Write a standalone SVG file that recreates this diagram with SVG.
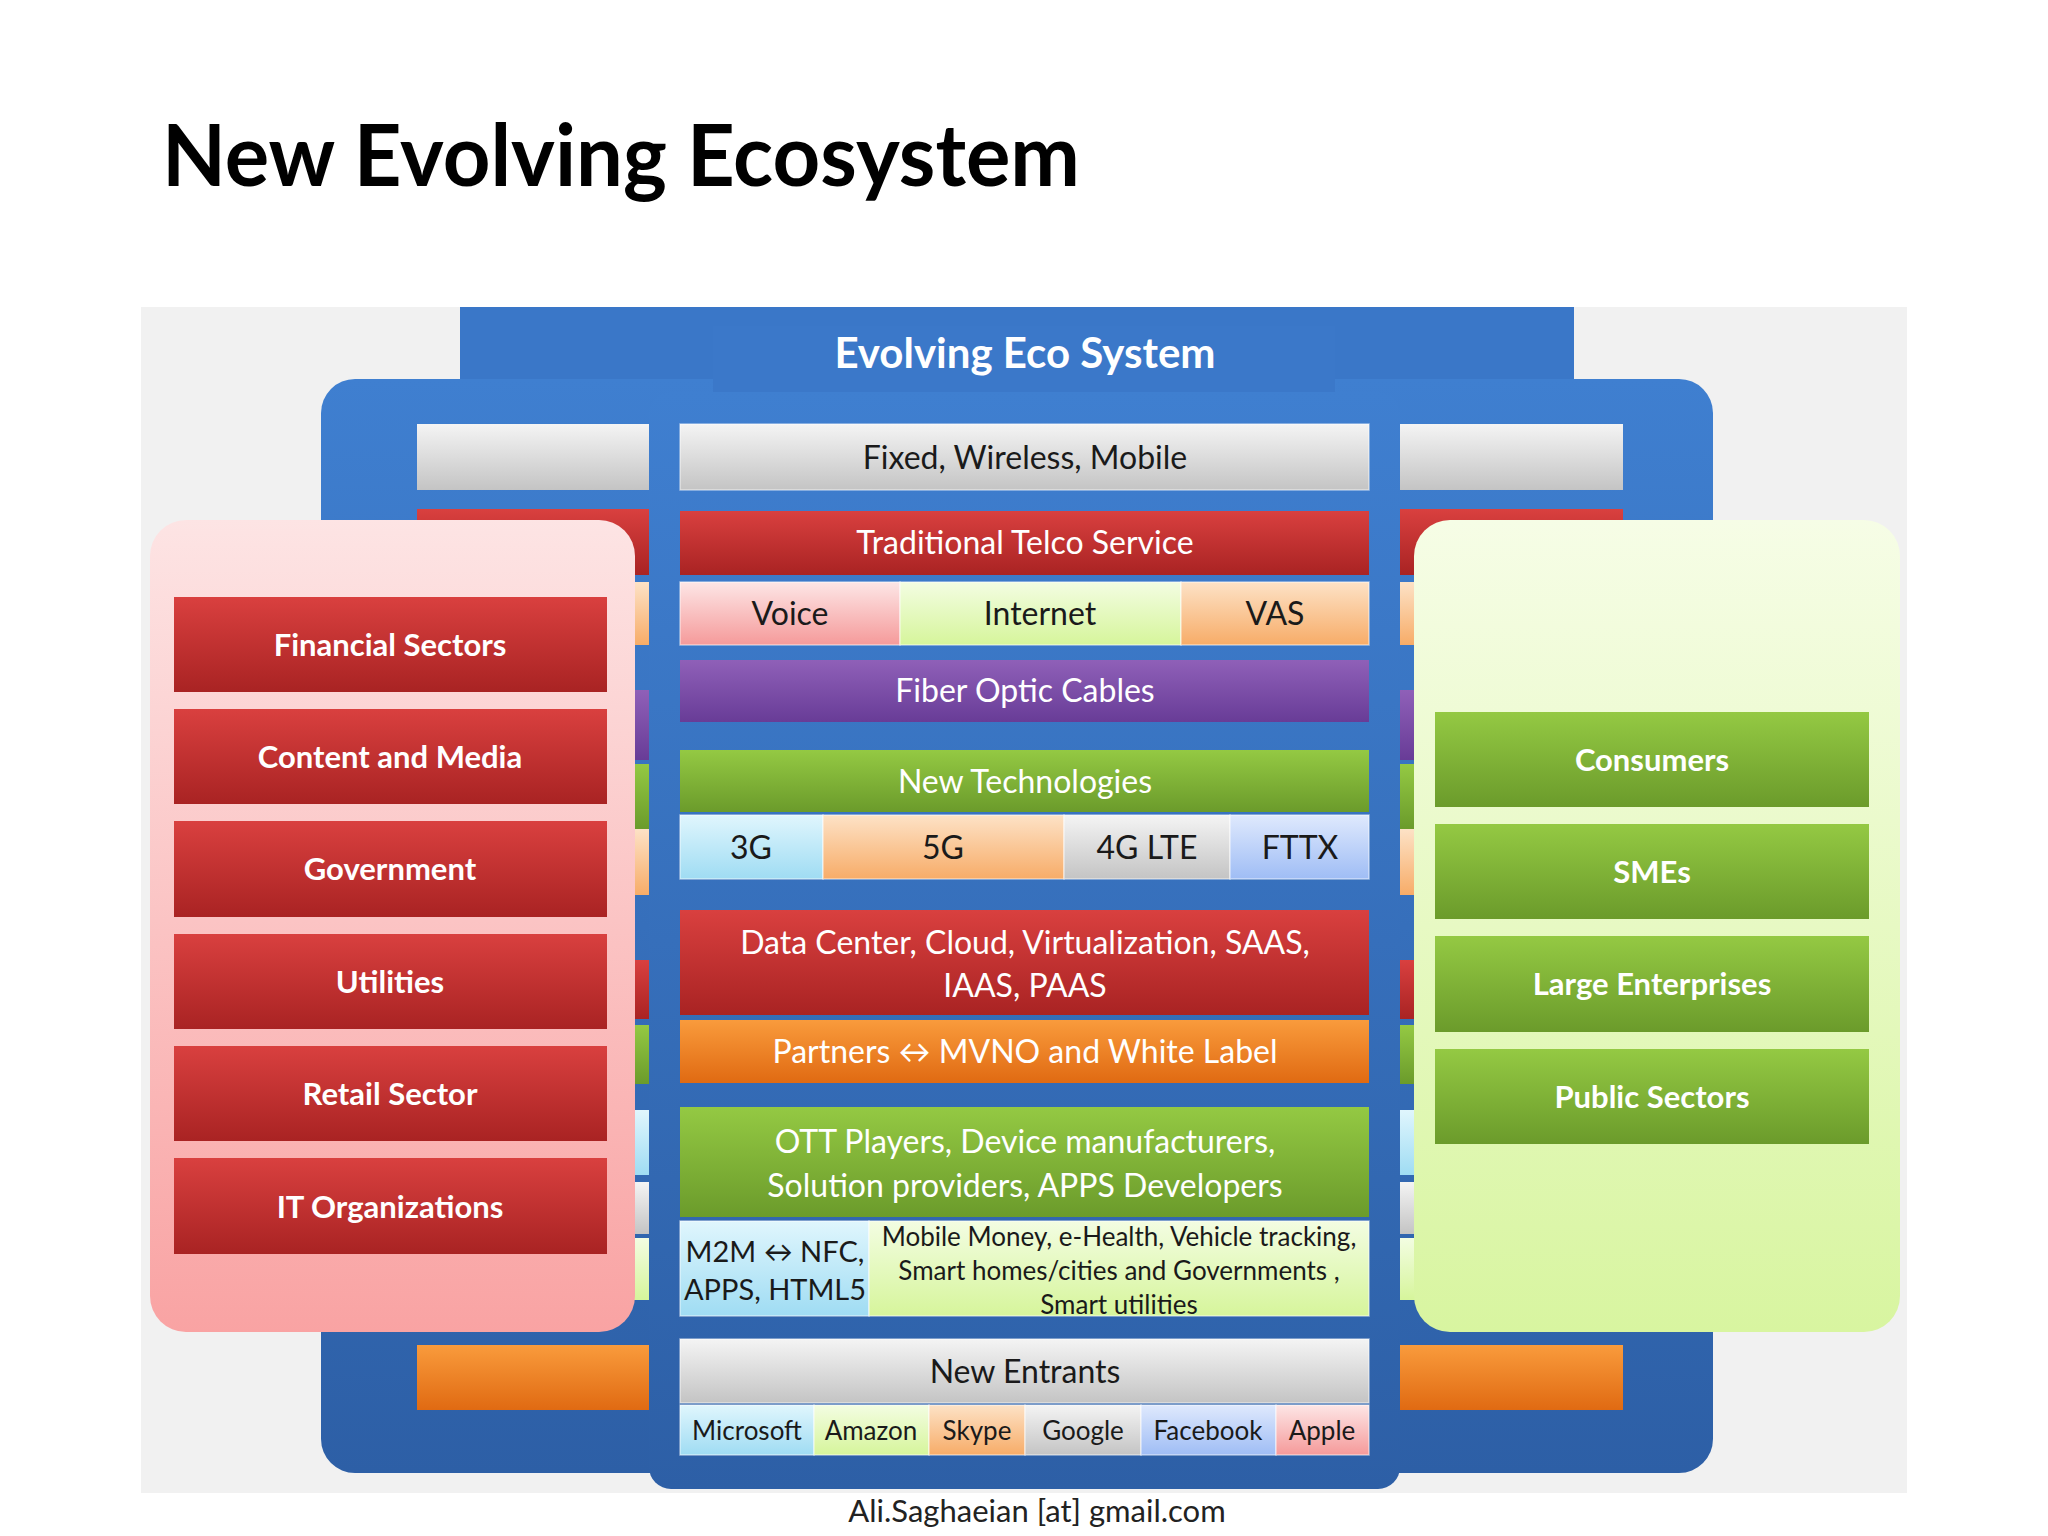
<svg xmlns="http://www.w3.org/2000/svg" width="2048" height="1536" viewBox="0 0 2048 1536">
<defs>
<linearGradient id="gRed" x1="0" y1="0" x2="0" y2="1"><stop offset="0" stop-color="#d9403f"/><stop offset="1" stop-color="#a92323"/></linearGradient>
<linearGradient id="gGreen" x1="0" y1="0" x2="0" y2="1"><stop offset="0" stop-color="#94c943"/><stop offset="1" stop-color="#6b9b2b"/></linearGradient>
<linearGradient id="gPurple" x1="0" y1="0" x2="0" y2="1"><stop offset="0" stop-color="#8f60b8"/><stop offset="1" stop-color="#683c97"/></linearGradient>
<linearGradient id="gOrange" x1="0" y1="0" x2="0" y2="1"><stop offset="0" stop-color="#f99b3c"/><stop offset="1" stop-color="#e06a12"/></linearGradient>
<linearGradient id="gGray" x1="0" y1="0" x2="0" y2="1"><stop offset="0" stop-color="#f4f4f4"/><stop offset="1" stop-color="#c4c4c4"/></linearGradient>
<linearGradient id="gPink" x1="0" y1="0" x2="0" y2="1"><stop offset="0" stop-color="#fde6e6"/><stop offset="1" stop-color="#f59a9a"/></linearGradient>
<linearGradient id="gLime" x1="0" y1="0" x2="0" y2="1"><stop offset="0" stop-color="#f3fde2"/><stop offset="1" stop-color="#d6f59b"/></linearGradient>
<linearGradient id="gPanelP" x1="0" y1="0" x2="0" y2="1"><stop offset="0" stop-color="#fde4e4"/><stop offset="1" stop-color="#f9a3a3"/></linearGradient>
<linearGradient id="gPanelG" x1="0" y1="0" x2="0" y2="1"><stop offset="0" stop-color="#f6fde6"/><stop offset="1" stop-color="#d8f5a0"/></linearGradient>
<linearGradient id="gSky" x1="0" y1="0" x2="0" y2="1"><stop offset="0" stop-color="#e0f6fd"/><stop offset="1" stop-color="#9fdcf3"/></linearGradient>
<linearGradient id="gPeach" x1="0" y1="0" x2="0" y2="1"><stop offset="0" stop-color="#fde2c6"/><stop offset="1" stop-color="#f7ac68"/></linearGradient>
<linearGradient id="gLav" x1="0" y1="0" x2="0" y2="1"><stop offset="0" stop-color="#dfe9fd"/><stop offset="1" stop-color="#9fbdf5"/></linearGradient>
<linearGradient id="gBlue" x1="0" y1="0" x2="0" y2="1"><stop offset="0" stop-color="#3f7fd0"/><stop offset="1" stop-color="#2d5fa6"/></linearGradient>
</defs>
<style>
text{font-family:Lato,"Open Sans","Liberation Sans",sans-serif;text-anchor:middle}
.c{font-size:32px;fill:#1a1a1a}
.w{font-size:32px;fill:#fff}
.b{font-size:31px;font-weight:bold;fill:#fff}
.s{font-size:26px;fill:#1a1a1a}
.e{stroke:#fff;stroke-opacity:0.5;stroke-width:1.5}
</style>
<rect width="2048" height="1536" fill="#fff"/>
<text x="162" y="186" style="font-size:86px;font-weight:bold;text-anchor:start;fill:#000" textLength="918" lengthAdjust="spacingAndGlyphs">New Evolving Ecosystem</text>
<rect x="141" y="307" width="1766" height="1186" fill="#f1f1f1"/>
<g id="background">
<rect x="460" y="307" width="1114" height="120" fill="#3a77c8"/>
<rect x="321" y="379" width="1392" height="1094" rx="34" fill="url(#gBlue)"/>
<rect x="417" y="424" width="1206" height="66" fill="url(#gGray)"/>
<rect x="417" y="509" width="1206" height="66" fill="url(#gRed)"/>
<rect x="417" y="582" width="1206" height="63" fill="url(#gPeach)"/>
<rect x="417" y="690" width="1206" height="70" fill="url(#gPurple)"/>
<rect x="417" y="764" width="1206" height="65" fill="url(#gGreen)"/>
<rect x="417" y="829" width="1206" height="66" fill="url(#gPeach)"/>
<rect x="417" y="960" width="1206" height="59" fill="url(#gRed)"/>
<rect x="417" y="1025" width="1206" height="59" fill="url(#gGreen)"/>
<rect x="417" y="1110" width="1206" height="65" fill="url(#gSky)"/>
<rect x="417" y="1182" width="1206" height="52" fill="url(#gGray)"/>
<rect x="417" y="1238" width="1206" height="62" fill="url(#gLime)"/>
<rect x="417" y="1345" width="1206" height="65" fill="url(#gOrange)"/>
</g>
<g id="center">
<rect x="649" y="392" width="751" height="1097" rx="22" fill="url(#gBlue)"/>
<rect x="713" y="326" width="622" height="66" fill="#3b78c9"/>
<text x="1025" y="368" style="font-size:42px;font-weight:bold;fill:#fff">Evolving Eco System</text>
</g>
<g id="left-panel">
<rect x="150" y="520" width="485" height="812" rx="36" fill="url(#gPanelP)"/>
</g>
<g id="right-panel">
<rect x="1414" y="520" width="486" height="812" rx="36" fill="url(#gPanelG)"/>
</g>
<g id="fixed"><rect x="680" y="424" width="689" height="66" fill="url(#gGray)" class="e"/><text class="c" x="1025" y="469">Fixed, Wireless, Mobile</text></g>
<g id="telco"><rect x="680" y="511" width="689" height="64" fill="url(#gRed)"/><text class="w" x="1025" y="554">Traditional Telco Service</text></g>
<g id="voice"><rect x="680" y="582" width="220" height="63" fill="url(#gPink)" class="e"/><text class="c" x="790" y="625">Voice</text></g>
<g id="internet"><rect x="900" y="582" width="281" height="63" fill="url(#gLime)" class="e"/><text class="c" x="1040" y="625">Internet</text></g>
<g id="vas"><rect x="1181" y="582" width="188" height="63" fill="url(#gPeach)" class="e"/><text class="c" x="1275" y="625">VAS</text></g>
<g id="fiber"><rect x="680" y="660" width="689" height="62" fill="url(#gPurple)"/><text class="w" x="1025" y="702">Fiber Optic Cables</text></g>
<g id="newtech"><rect x="680" y="750" width="689" height="62" fill="url(#gGreen)"/><text class="w" x="1025" y="793">New Technologies</text></g>
<g id="g3"><rect x="680" y="815" width="143" height="64" fill="url(#gSky)" class="e"/><text class="c" x="751" y="859">3G</text></g>
<g id="g5"><rect x="823" y="815" width="241" height="64" fill="url(#gPeach)" class="e"/><text class="c" x="943" y="859">5G</text></g>
<g id="lte"><rect x="1064" y="815" width="166" height="64" fill="url(#gGray)" class="e"/><text class="c" x="1147" y="859">4G LTE</text></g>
<g id="fttx"><rect x="1230" y="815" width="139" height="64" fill="url(#gLav)" class="e"/><text class="c" x="1300" y="859">FTTX</text></g>
<g id="datacenter"><rect x="680" y="910" width="689" height="105" fill="url(#gRed)"/><text class="w" x="1025" y="954">Data Center,  Cloud, Virtualization, SAAS,</text><text class="w" x="1025" y="997">IAAS, PAAS</text></g>
<g id="partners"><rect x="680" y="1020" width="689" height="63" fill="url(#gOrange)"/><text class="w" x="1025" y="1063">Partners ↔ MVNO and White Label</text></g>
<g id="ott"><rect x="680" y="1107" width="689" height="110" fill="url(#gGreen)"/><text class="w" x="1025" y="1153">OTT Players, Device manufacturers,</text><text class="w" x="1025" y="1197">Solution providers, APPS Developers</text></g>
<g id="m2m"><rect x="680" y="1221" width="189" height="95" fill="url(#gSky)" class="e"/><text class="c" x="775" y="1262" style="font-size:29px">M2M ↔ NFC,</text><text class="c" x="775" y="1300" style="font-size:29px">APPS, HTML5</text></g>
<g id="mobile"><rect x="869" y="1221" width="500" height="95" fill="url(#gLime)" class="e"/><text class="s" x="1119" y="1246">Mobile Money, e-Health, Vehicle tracking,</text><text class="s" x="1119" y="1280">Smart homes/cities and Governments ,</text><text class="s" x="1119" y="1314">Smart utilities</text></g>
<g id="entrants"><rect x="680" y="1339" width="689" height="64" fill="url(#gGray)" class="e"/><text class="c" x="1025" y="1383">New Entrants</text></g>
<g id="microsoft"><rect x="680" y="1405" width="134" height="50" fill="url(#gSky)" class="e"/><text class="s" x="747" y="1440">Microsoft</text></g>
<g id="amazon"><rect x="814" y="1405" width="115" height="50" fill="url(#gLime)" class="e"/><text class="s" x="871" y="1440">Amazon</text></g>
<g id="skype"><rect x="929" y="1405" width="96" height="50" fill="url(#gPeach)" class="e"/><text class="s" x="977" y="1440">Skype</text></g>
<g id="google"><rect x="1025" y="1405" width="116" height="50" fill="url(#gGray)" class="e"/><text class="s" x="1083" y="1440">Google</text></g>
<g id="facebook"><rect x="1141" y="1405" width="135" height="50" fill="url(#gLav)" class="e"/><text class="s" x="1208" y="1440">Facebook</text></g>
<g id="apple"><rect x="1276" y="1405" width="93" height="50" fill="url(#gPink)" class="e"/><text class="s" x="1322" y="1440">Apple</text></g>
<g id="financial"><rect x="174" y="597" width="433" height="95" fill="url(#gRed)"/><text class="b" x="390" y="656">Financial Sectors</text></g>
<g id="content"><rect x="174" y="709" width="433" height="95" fill="url(#gRed)"/><text class="b" x="390" y="768">Content and Media</text></g>
<g id="government"><rect x="174" y="821" width="433" height="96" fill="url(#gRed)"/><text class="b" x="390" y="880">Government</text></g>
<g id="utilities"><rect x="174" y="934" width="433" height="95" fill="url(#gRed)"/><text class="b" x="390" y="993">Utilities</text></g>
<g id="retail"><rect x="174" y="1046" width="433" height="95" fill="url(#gRed)"/><text class="b" x="390" y="1105">Retail Sector</text></g>
<g id="it"><rect x="174" y="1158" width="433" height="96" fill="url(#gRed)"/><text class="b" x="390" y="1218">IT Organizations</text></g>
<g id="consumers"><rect x="1435" y="712" width="434" height="95" fill="url(#gGreen)"/><text class="b" x="1652" y="771">Consumers</text></g>
<g id="smes"><rect x="1435" y="824" width="434" height="95" fill="url(#gGreen)"/><text class="b" x="1652" y="883">SMEs</text></g>
<g id="large"><rect x="1435" y="936" width="434" height="96" fill="url(#gGreen)"/><text class="b" x="1652" y="995">Large Enterprises</text></g>
<g id="public"><rect x="1435" y="1049" width="434" height="95" fill="url(#gGreen)"/><text class="b" x="1652" y="1108">Public Sectors</text></g>
<g id="connectors"/>
<text x="1037" y="1522" style="font-size:31px;fill:#222">Ali.Saghaeian [at] gmail.com</text>
</svg>
